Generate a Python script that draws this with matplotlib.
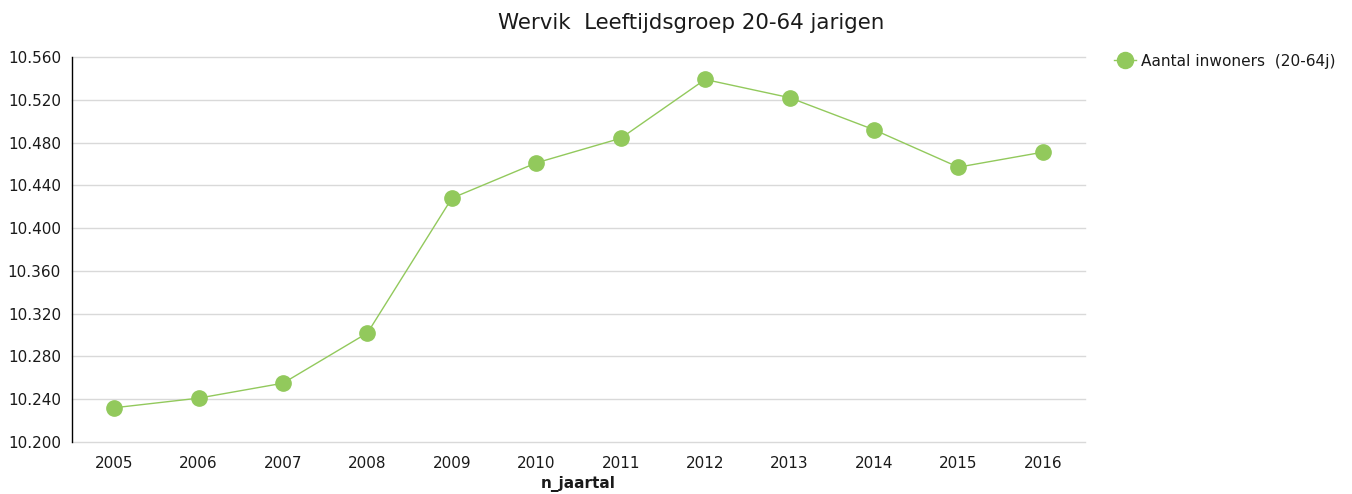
import matplotlib.pyplot as plt
from matplotlib.ticker import FuncFormatter, MultipleLocator

# Data
years = [2005, 2006, 2007, 2008, 2009, 2010, 2011, 2012, 2013, 2014, 2015, 2016]
inwoners = [10232, 10241, 10255, 10302, 10428, 10461, 10484, 10539, 10522, 10492, 10457, 10471]

GREEN = "#92c95c"
GRID = "#d9d9d9"
INK = "#1a1a1a"

plt.rcParams["font.family"] = ["DejaVu Sans"]


def dutch_thousands(v, _):
    # 10240 -> "10.240"
    return f"{v:,.0f}".replace(",", ".")


fig = plt.figure(figsize=(13.52, 4.94), dpi=100)
ax = fig.add_axes([0.0533, 0.1053, 0.7492, 0.7793])

x = list(range(len(years)))
ax.plot(x, inwoners, color=GREEN, linewidth=1, marker="o", markersize=11,
        markerfacecolor=GREEN, markeredgecolor=GREEN, zorder=3,
        label="Aantal inwoners  (20-64j)")

ax.set_ylim(10200, 10560)
ax.yaxis.set_major_locator(MultipleLocator(40))
ax.yaxis.set_major_formatter(FuncFormatter(dutch_thousands))
ax.set_xlim(-0.5, len(years) - 0.5)
ax.set_xticks(x)
ax.set_xticklabels([str(yr) for yr in years])

ax.grid(axis="y", color=GRID, linewidth=1, zorder=0)
for gl in ax.get_ygridlines():
    gl.set_clip_on(False)
for side in ("top", "right", "bottom"):
    ax.spines[side].set_visible(False)
ax.spines["left"].set_color("black")
ax.spines["left"].set_linewidth(1)
ax.tick_params(axis="both", length=0, labelsize=11, colors=INK)
ax.tick_params(axis="y", pad=8)
ax.tick_params(axis="x", pad=10)

ax.set_xlabel("n_jaartal", fontsize=11, fontweight="bold", color=INK, labelpad=4)

fig.text(0.511, 0.953, "Wervik  Leeftijdsgroep 20-64 jarigen", ha="center",
         va="center", fontsize=15.4, color=INK)

ax.legend(loc="upper left", bbox_to_anchor=(1.015, 1.045), frameon=False,
          fontsize=11.1, handlelength=1.4, handletextpad=0.35, labelcolor=INK,
          markerscale=1.05)

fig.savefig("out.png", dpi=100, facecolor="white")
